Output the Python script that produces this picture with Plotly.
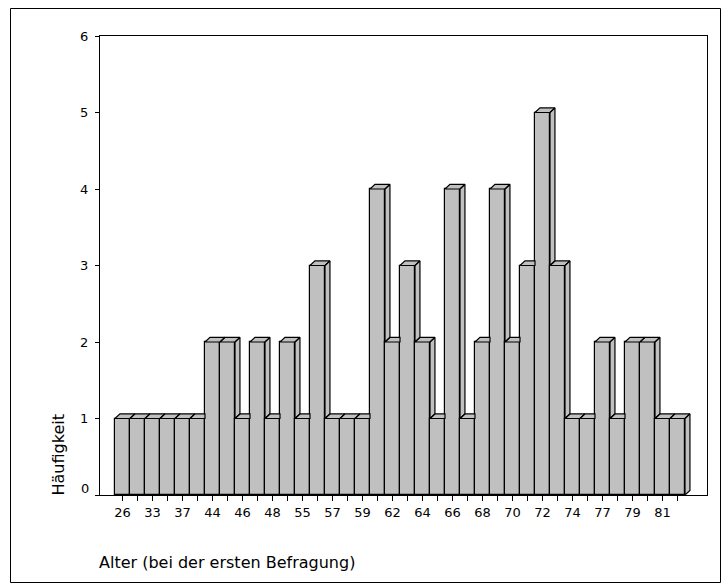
import plotly.graph_objects as go

# Age at first interview (categories) and number of respondents per age
ages = ["26", "30", "33", "35", "37", "41", "44", "45", "46", "47",
        "48", "52", "55", "56", "57", "58", "59", "61", "62", "63",
        "64", "65", "66", "67", "68", "69", "70", "71", "72", "73",
        "74", "76", "77", "78", "79", "80", "81", "83"]
counts = [1, 1, 1, 1, 1, 1, 2, 2, 1, 2,
          1, 2, 1, 3, 1, 1, 1, 4, 2, 3,
          2, 1, 4, 1, 2, 4, 2, 3, 5, 3,
          1, 1, 2, 1, 2, 2, 1, 1]
y_ticks = [0, 1, 2, 3, 4, 5, 6]

FONT = "DejaVu Sans"
FILL = "#c0c0c0"
DX, DY = 0.33, 0.06          # oblique depth of the 3D bars (category / count units)

n = len(counts)
pos = list(range(n))

# visible top and side faces of each bar, clipped against the neighbour to the right
fx, fy = [], []


def add_poly(pts):
    for px, py in pts + [pts[0]]:
        fx.append(px)
        fy.append(py)
    fx.append(None)
    fy.append(None)


for i, v in zip(pos, counts):
    nxt = counts[i + 1] if i + 1 < n else 0
    left, right = i - 0.5, i + 0.5
    if nxt > v:
        add_poly([(left, v), (right, v), (right, v + DY), (left + DX, v + DY)])
    else:
        add_poly([(left, v), (right, v), (right + DX, v + DY), (left + DX, v + DY)])
    if nxt < v:
        add_poly([(right, nxt), (right + DX, nxt + DY), (right + DX, v + DY), (right, v)])

fig = go.Figure()
fig.add_trace(go.Bar(
    x=pos, y=counts, width=1,
    marker=dict(color=FILL, line=dict(color="black", width=1.2)),
    hoverinfo="skip",
))
fig.add_trace(go.Scatter(
    x=fx, y=fy, mode="lines", fill="toself", fillcolor=FILL,
    line=dict(color="black", width=1.2), hoverinfo="skip",
))

W, H = 721, 583
ML, MR, MT, MB = 100, 14, 36, 88
pw, ph = W - ML - MR, H - MT - MB
cat_px = 15.0
x0 = -0.5 - (122.5 - 7.5 - ML) / cat_px
x_range = [x0, x0 + pw / cat_px]


def px_x(p):
    return (p - ML) / pw


def px_y(p):
    return (H - MB - p) / ph


fig.update_layout(
    width=W, height=H,
    margin=dict(l=ML, r=MR, t=MT, b=MB),
    paper_bgcolor="white", plot_bgcolor="white",
    showlegend=False, bargap=0,
    font=dict(family=FONT, size=13, color="black"),
    xaxis=dict(
        range=x_range, tickmode="array", tickvals=pos,
        ticktext=[a if i % 2 == 0 else "" for i, a in enumerate(ages)],
        ticks="outside", ticklen=5, tickcolor="black", tickwidth=1,
        showline=True, linecolor="black", linewidth=1, mirror=True,
        showgrid=False, zeroline=False, tickangle=0,
        tickfont=dict(family=FONT, size=13, color="black"),
    ),
    yaxis=dict(
        range=[0, 6], tickmode="array", tickvals=y_ticks,
        ticktext=[str(t) if t != 0 else "" for t in y_ticks],
        ticks="outside", ticklen=4, tickcolor="black", tickwidth=1,
        ticklabelstandoff=4,
        showline=True, linecolor="black", linewidth=1, mirror=True,
        showgrid=False, zeroline=False,
        tickfont=dict(family=FONT, size=13, color="black"),
    ),
    shapes=[dict(
        type="rect", xref="paper", yref="paper", layer="below",
        x0=px_x(10.5), x1=px_x(720.5), y0=px_y(582.5), y1=px_y(8.5),
        line=dict(color="black", width=1), fillcolor="rgba(0,0,0,0)",
    )],
    annotations=[
        dict(text="0", xref="paper", yref="y", x=px_x(91), y=0,
             xanchor="right", yanchor="middle", yshift=7, showarrow=False,
             font=dict(family=FONT, size=13, color="black")),
        dict(text="Häufigkeit", xref="paper", yref="paper",
             x=px_x(57.5), y=px_y(455), textangle=-90,
             xanchor="center", yanchor="middle", showarrow=False,
             font=dict(family=FONT, size=16, color="black")),
        dict(text="Alter (bei der ersten Befragung)", xref="paper", yref="paper",
             x=px_x(97), y=px_y(562), xanchor="left", yanchor="middle",
             showarrow=False, font=dict(family=FONT, size=16, color="black")),
    ],
)

fig.write_html("out.html")
